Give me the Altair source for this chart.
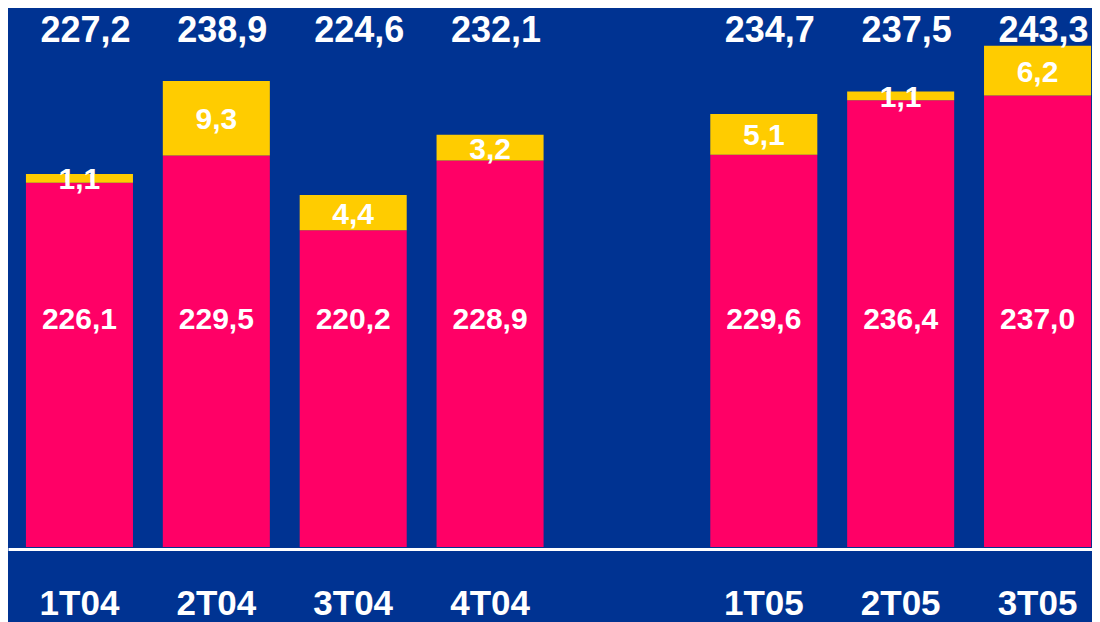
import altair as alt
import pandas as pd

# ---- data ----
quarters = ["1T04", "2T04", "3T04", "4T04", "1T05", "2T05", "3T05"]
slots = ["1T04", "2T04", "3T04", "4T04", " ", "1T05", "2T05", "3T05"]
base_values = [226.1, 229.5, 220.2, 228.9, 229.6, 236.4, 237.0]
extra_values = [1.1, 9.3, 4.4, 3.2, 5.1, 1.1, 6.2]
total_values = [227.2, 238.9, 224.6, 232.1, 234.7, 237.5, 243.3]


def fmt(v):
    return f"{v:.1f}".replace(".", ",")


df = pd.DataFrame({
    "quarter": quarters,
    "base": base_values,
    "extra": extra_values,
    "total": total_values,
})
df["top"] = df["base"] + df["extra"]
df["mid"] = df["base"] + df["extra"] / 2
df["base_label"] = [fmt(v) for v in base_values]
df["extra_label"] = [fmt(v) for v in extra_values]
df["total_label"] = [fmt(v) for v in total_values]

BLUE = "#003392"
PINK = "#FF0066"
YELLOW = "#FFCC00"
FONT = "Liberation Sans"

yscale = alt.Scale(domain=[180.7, 247.9], zero=False, nice=False)
xenc = alt.X(
    "quarter:N",
    sort=slots,
    scale=alt.Scale(domain=slots, paddingInner=0.218, paddingOuter=0.069, align=0.95),
    axis=alt.Axis(
        title=None,
        labelAngle=0,
        labelFont=FONT,
        labelFontSize=35,
        labelFontWeight="bold",
        labelColor="white",
        labelPadding=37,
        labelOverlap=False,
        labelBound=False,
        labelFlush=False,
        ticks=False,
        tickSize=0,
        grid=False,
        domainColor="white",
        domainWidth=3,
        offset=2,
    ),
)

base = alt.Chart(df)

pink_bars = base.mark_bar(color=PINK, clip=True).encode(
    x=xenc,
    y=alt.Y("base:Q", scale=yscale, axis=None),
    y2=alt.datum(0),
)

yellow_bars = base.mark_bar(color=YELLOW, clip=True).encode(
    x=xenc,
    y=alt.Y("top:Q", scale=yscale, axis=None),
    y2="base:Q",
)

total_text = base.mark_text(
    font=FONT, fontSize=36, fontWeight="bold", color="white",
    baseline="alphabetic", align="center", dx=6,
).encode(x=xenc, y=alt.value(34), text="total_label:N")

base_text = base.mark_text(
    font=FONT, fontSize=30, fontWeight="bold", color="white",
    baseline="alphabetic", align="center",
).encode(x=xenc, y=alt.value(321), text="base_label:N")

extra_text = base.mark_text(
    font=FONT, fontSize=30, fontWeight="bold", color="white",
    baseline="middle", align="center", dy=2,
).encode(
    x=xenc,
    y=alt.Y("mid:Q", scale=yscale, axis=None),
    text="extra_label:N",
)

chart = (
    alt.layer(pink_bars, yellow_bars, total_text, base_text, extra_text)
    .properties(
        width=1084,
        height=539,
        padding={"left": 0, "top": 0, "right": 0, "bottom": 75},
        autosize=alt.AutoSizeParams(type="none"),
        background=BLUE,
    )
    .configure_view(stroke=None)
)

chart.save("out.html", embed_options={"renderer": "svg", "actions": False})
